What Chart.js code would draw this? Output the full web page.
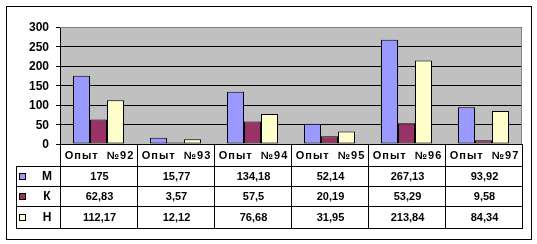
<!DOCTYPE html>
<html>
<head>
<meta charset="utf-8">
<script src="https://cdn.jsdelivr.net/npm/chart.js@4/dist/chart.umd.min.js"></script>
<style>
  html, body { margin: 0; padding: 0; background: #fff; }
  canvas { display: block; }
</style>
</head>
<body>
<canvas id="barChart" width="537" height="244"></canvas>
<script>
// data
const categories = ['Опыт  №92', 'Опыт  №93', 'Опыт  №94', 'Опыт  №95', 'Опыт  №96', 'Опыт  №97'];
const seriesNames = ['М', 'К', 'Н'];
const mValues = [175, 15.77, 134.18, 52.14, 267.13, 93.92];
const kValues = [62.83, 3.57, 57.5, 20.19, 53.29, 9.58];
const hValues = [112.17, 12.12, 76.68, 31.95, 213.84, 84.34];
const yTicks = [0, 50, 100, 150, 200, 250, 300];

const colors = ['#9999FF', '#993366', '#FFFFCC'];
const fontFamily = '"Liberation Sans", Arial, sans-serif';

function fmt(v) {
  return String(v).replace('.', ',');
}

// gray plot area and white background
const backgroundPlugin = {
  id: 'background',
  beforeDraw(chart) {
    const c = chart.ctx;
    const a = chart.chartArea;
    c.save();
    c.fillStyle = '#fff';
    c.fillRect(0, 0, chart.width, chart.height);
    c.fillStyle = '#C0C0C0';
    c.fillRect(a.left, a.top, a.right - a.left, a.bottom - a.top);
    c.restore();
  }
};

// y tick labels, data table under the plot, outer frame
const tablePlugin = {
  id: 'dataTable',
  afterDraw(chart) {
    const c = chart.ctx;
    const a = chart.chartArea;
    const x = chart.scales.x;
    const y = chart.scales.y;
    const colW = (a.right - a.left) / categories.length;
    const rows = [a.bottom, a.bottom + 22, a.bottom + 42, a.bottom + 62, a.bottom + 84];
    const legendLeft = 16;
    const values = [mValues, kValues, hValues];

    c.save();
    // y labels
    c.fillStyle = '#000';
    c.font = 'bold 12px ' + fontFamily;
    c.textAlign = 'right';
    c.textBaseline = 'middle';
    y.ticks.forEach(t => {
      c.fillText(String(t.value), a.left - 11, y.getPixelForValue(t.value) + 1);
    });

    // plot area outline (gray top/right)
    c.strokeStyle = '#808080';
    c.lineWidth = 1;
    c.beginPath();
    c.moveTo(a.left, a.top + 0.5);
    c.lineTo(a.right - 0.5, a.top + 0.5);
    c.lineTo(a.right - 0.5, a.bottom);
    c.stroke();

    c.strokeStyle = '#000';
    c.beginPath();
    // axis line
    c.moveTo(Math.round(a.left), rows[0] + 0.5);
    c.lineTo(a.right, rows[0] + 0.5);
    // row lines
    for (let i = 1; i < rows.length; i++) {
      c.moveTo(legendLeft, rows[i] + 0.5);
      c.lineTo(a.right, rows[i] + 0.5);
    }
    // column lines
    for (let i = 0; i <= categories.length; i++) {
      const px = Math.round(a.left + i * colW) + 0.5;
      c.moveTo(px, rows[0]);
      c.lineTo(px, rows[4] + 1);
    }
    c.moveTo(legendLeft + 0.5, rows[1]);
    c.lineTo(legendLeft + 0.5, rows[4] + 1);
    c.stroke();

    c.textAlign = 'center';
    categories.forEach((cat, i) => {
      const cx = x.getPixelForValue(i) + 1;
      c.font = 'bold 11px ' + fontFamily;
      c.letterSpacing = '1px';
      c.fillText(cat, cx, (rows[0] + rows[1]) / 2 + 1);
      c.letterSpacing = '0px';
      values.forEach((arr, r) => {
        c.fillText(fmt(arr[i]), cx, (rows[r + 1] + rows[r + 2]) / 2 + 1);
      });
    });

    // legend keys
    seriesNames.forEach((name, r) => {
      const cy = Math.round((rows[r + 1] + rows[r + 2]) / 2);
      c.fillStyle = colors[r];
      c.fillRect(19, cy - 3, 6, 6);
      c.strokeStyle = '#000';
      c.strokeRect(19.5, cy - 2.5, 6, 6);
      c.fillStyle = '#000';
      c.font = 'bold 12px ' + fontFamily;
      c.fillText(name, 47, cy + 1);
    });

    // outer frame
    c.strokeStyle = '#000';
    c.strokeRect(6.5, 6.5, 525, 233);
    c.restore();
  }
};

new Chart(document.getElementById('barChart').getContext('2d'), {
  type: 'bar',
  data: {
    labels: categories,
    datasets: [
      { label: seriesNames[0], data: mValues, backgroundColor: colors[0] },
      { label: seriesNames[1], data: kValues, backgroundColor: colors[1] },
      { label: seriesNames[2], data: hValues, backgroundColor: colors[2] }
    ].map(d => Object.assign(d, {
      borderColor: '#000',
      borderWidth: 1,
      borderSkipped: false,
      categoryPercentage: 51 / 77,
      barPercentage: 1
    }))
  },
  options: {
    responsive: false,
    animation: false,
    devicePixelRatio: 1,
    layout: { padding: { left: 56, top: 27, right: 15, bottom: 100 } },
    plugins: {
      legend: { display: false },
      tooltip: { enabled: false }
    },
    scales: {
      x: { display: false },
      y: {
        min: 0,
        max: 300,
        afterBuildTicks(scale) {
          scale.ticks = yTicks.map(v => ({ value: v }));
        },
        ticks: { display: false },
        grid: { color: '#000', tickLength: 4 },
        border: { color: '#000' }
      }
    }
  },
  plugins: [backgroundPlugin, tablePlugin]
});
</script>
</body>
</html>
